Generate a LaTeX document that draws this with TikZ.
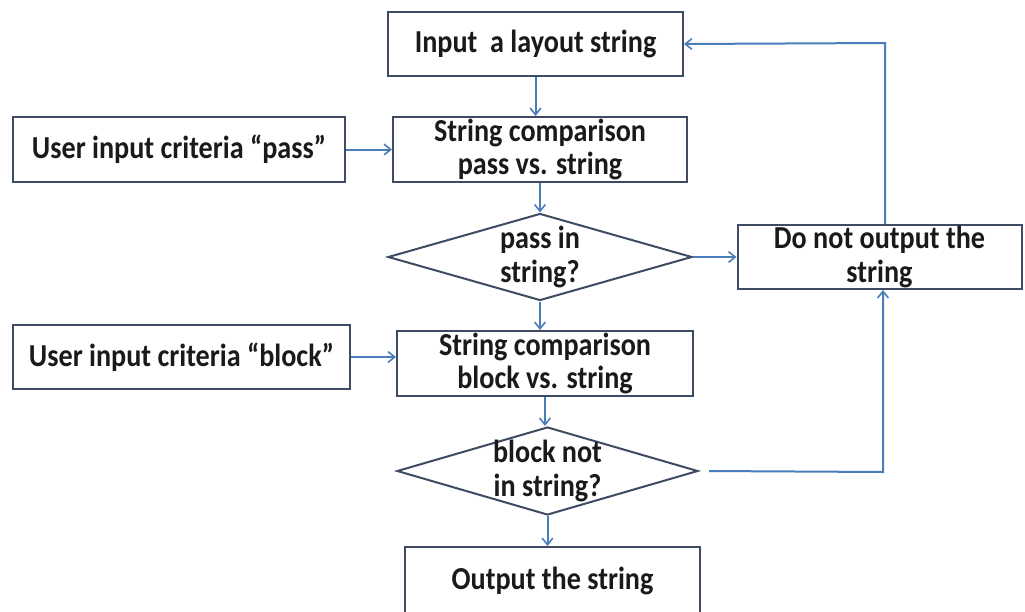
\documentclass[tikz,border=0pt]{standalone}
\usepackage{fontspec}
\setmainfont{Carlito}
\newfontfamily\lblfont[FakeStretch=0.88]{Carlito}
\usetikzlibrary{shapes.geometric,arrows.meta}
\definecolor{edgeblue}{HTML}{4A7EBB}
\definecolor{boxline}{HTML}{3E4B62}
\definecolor{txt}{HTML}{1A1A1A}
\begin{document}
\begin{tikzpicture}[x=0.75pt,y=-0.75pt,
  lbl/.style={font=\lblfont\fontsize{24}{25}\selectfont\bfseries, text=txt, align=center},
  stepbox/.style 2 args={lbl, draw=boxline, line width=1.5pt, rectangle, inner sep=0pt,
    minimum width=#1*0.75pt, minimum height=#2*0.75pt},
  decide/.style n args={3}{lbl, draw=boxline, line width=1.5pt, diamond, inner sep=-12pt,
    aspect=#3, minimum width=#1*0.75pt, minimum height=#2*0.75pt},
  flow/.style={draw=edgeblue, line width=1.5pt, -{Straight Barb[length=5pt,width=8pt,line width=1.2pt]}}]
\useasboundingbox (0,0) rectangle (1025,611);
\fill[white] (0,0) rectangle (1025,611);

% process boxes
\node[stepbox={295}{64}] (inp)  at (535.5,44)  {Input\ \ a layout string};
\node[stepbox={294}{65}] (cmp1) at (540,149.5) {String comparison\\pass vs. string};
\node[stepbox={332}{65}] (usr1) at (179,149.5) {User input criteria “pass”};
\node[decide={304}{87}{3.49}]  (dia1) at (540,257)   {pass in\\string?};
\node[stepbox={284}{64}] (no)   at (879.5,257) {Do not output the\\string};
\node[stepbox={337}{64}] (usr2) at (181.5,357) {User input criteria “block”};
\node[stepbox={296}{65}] (cmp2) at (545,363.5) {String comparison\\block vs. string};
\node[decide={301}{88}{3.42}]  (dia2) at (547.5,471) {block not\\in string?};
\node[stepbox={295}{67}] (out)  at (552.5,580.5) {Output the string};

% corners of the feedback loop
\coordinate (up) at (885,43);
\coordinate (dn) at (883,472);

% connectors
\draw[flow] (inp.south) -- (inp.south |- cmp1.north);
\draw[flow] (usr1.east) -- (usr1.east -| cmp1.west);
\draw[flow] (cmp1.south) -- (cmp1.south |- dia1.north);
\draw[flow] (dia1.east) -- (no.west);
\draw[flow] (dia1.south) -- (dia1.south |- cmp2.north);
\draw[flow] (usr2.east) -- (usr2.east -| cmp2.west);
\draw[flow] (cmp2.south) -- (cmp2.south |- dia2.north);
\draw[flow] (dia2.south) -- (dia2.south |- out.north);
\draw[flow] ([xshift=7.5pt]dia2.east) -- (dn) -- (dn |- no.south);
\draw[flow] (up |- no.north) -- (up) -- (inp.east);
\end{tikzpicture}
\end{document}
